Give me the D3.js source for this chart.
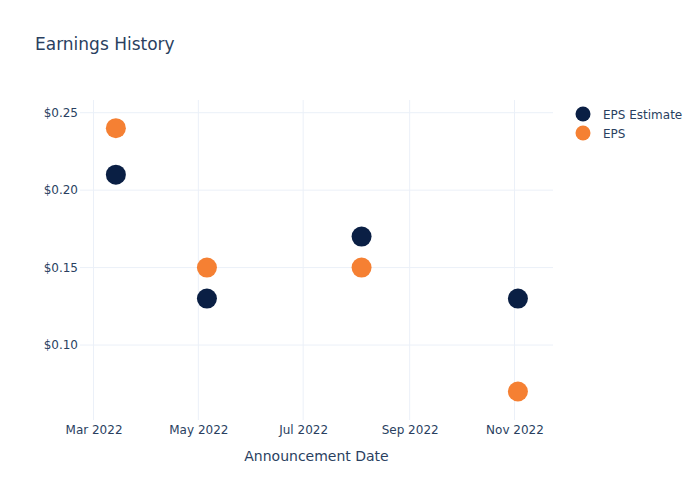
<!DOCTYPE html>
<html><head><meta charset="utf-8">
<script src="https://cdn.jsdelivr.net/npm/d3@7"></script>
<style>body{margin:0;background:#fff;} text{font-family:"DejaVu Sans",Verdana,sans-serif;}</style>
</head><body>
<svg id="c" width="700" height="500"></svg>
<script>
const dates = ["2022-03-14","2022-05-06","2022-08-04","2022-11-03"];
const epsEstimate = [0.21, 0.13, 0.17, 0.13];
const eps = [0.24, 0.15, 0.15, 0.07];
const yTicks = [0.10, 0.15, 0.20, 0.25];
const xTicks = ["2022-03-01","2022-05-01","2022-07-01","2022-09-01","2022-11-01"];
const seriesNames = ["EPS Estimate","EPS"];
const colors = ["#0a1f44","#f58033"];

const svg = d3.select("#c");
const parse = d3.utcParse("%Y-%m-%d");
const L=80,R=553,T=100,B=420;
const x = d3.scaleUtc().domain([new Date(Date.UTC(2022,1,21,3)), new Date(Date.UTC(2022,10,23,10))]).range([L,R]);
const y = d3.scaleLinear().domain([0.0516,0.2582]).range([B,T]);
const textColor="#2a3f5f", grid="#ebf0f8";

svg.append("g").selectAll("line").data(xTicks).join("line")
  .attr("x1",d=>x(parse(d))).attr("x2",d=>x(parse(d))).attr("y1",T).attr("y2",B)
  .attr("stroke",grid).attr("stroke-width",1);
svg.append("g").selectAll("line").data(yTicks).join("line")
  .attr("y1",d=>y(d)).attr("y2",d=>y(d)).attr("x1",L).attr("x2",R)
  .attr("stroke",grid).attr("stroke-width",1);

const xa = d3.axisBottom(x).tickValues(xTicks.map(parse)).tickFormat(d3.utcFormat("%b %Y")).tickSize(0).tickPadding(5);
svg.append("g").attr("transform",`translate(0,${B})`).call(xa)
  .call(g=>g.select(".domain").remove())
  .selectAll("text").attr("fill",textColor).style("font-size","12px").style("font-family","DejaVu Sans");
const ya = d3.axisLeft(y).tickValues(yTicks).tickFormat(d=>"$"+d3.format(".2f")(d)).tickSize(0).tickPadding(2);
svg.append("g").attr("transform",`translate(${L},0)`).call(ya)
  .call(g=>g.select(".domain").remove())
  .selectAll("text").attr("fill",textColor).style("font-size","12px").style("font-family","DejaVu Sans");

svg.append("text").attr("x",35).attr("y",50).text("Earnings History")
  .attr("fill",textColor).style("font-size","17px");
svg.append("text").attr("x",(L+R)/2).attr("y",461).attr("text-anchor","middle")
  .text("Announcement Date").attr("fill",textColor).style("font-size","14px");

[epsEstimate, eps].forEach((vals,i)=>{
  svg.append("g").selectAll("circle").data(vals).join("circle")
    .attr("cx",(d,j)=>x(parse(dates[j]))).attr("cy",d=>y(d)).attr("r",10)
    .attr("fill",colors[i]);
});

seriesNames.forEach((n,i)=>{
  const g = svg.append("g").attr("transform",`translate(583,${114+i*19})`);
  g.append("circle").attr("r",7.5).attr("fill",colors[i]);
  g.append("text").attr("x",20).attr("y",4.5).text(n).attr("fill",textColor).style("font-size","12px");
});
</script>
</body></html>
